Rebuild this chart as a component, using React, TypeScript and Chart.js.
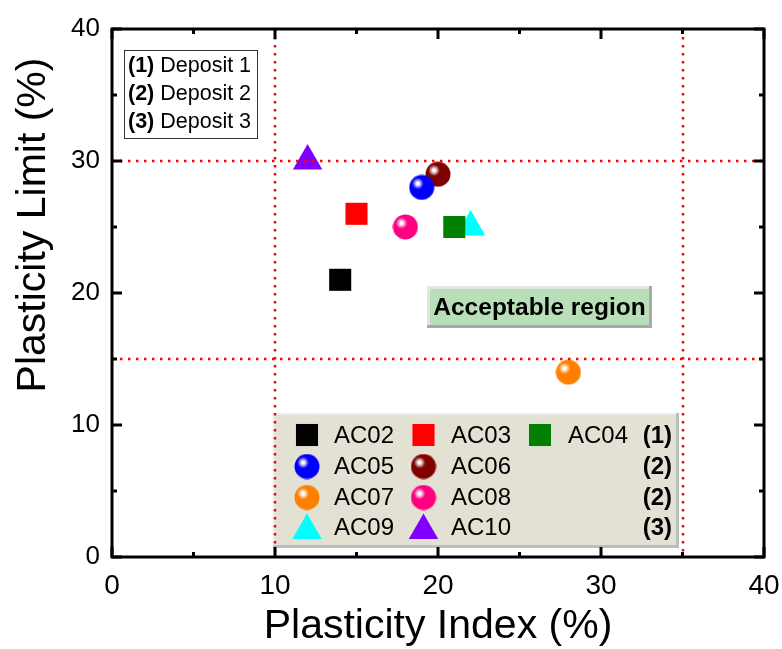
import React, { useEffect, useRef } from 'react';
import { Chart, registerables } from 'chart.js';

Chart.register(...registerables);

// ---------- data ----------
const sampleNames = ['AC02', 'AC03', 'AC04', 'AC05', 'AC06', 'AC07', 'AC08', 'AC09', 'AC10'];
const plasticityIndex = [14, 15, 21, 19, 20, 28, 18, 22, 12];
const plasticityLimit = [21, 26, 25, 28, 29, 14, 25, 25, 30];
const sampleColors = ['#000000', '#ff0000', '#008000', '#0000ff', '#800000', '#ff8000', '#ff0080', '#00ffff', '#8000ff'];
const sampleShapes = ['square', 'square', 'square', 'sphere', 'sphere', 'sphere', 'sphere', 'triangle', 'triangle'];
const legendRows = [[0, 1, 2], [3, 4], [5, 6], [7, 8]];
const legendRowDeposit = ['(1)', '(2)', '(2)', '(3)'];
const depositKeys = ['(1)', '(2)', '(3)'];
const depositNames = ['Deposit 1', 'Deposit 2', 'Deposit 3'];
const refLinesX = [10, 35];
const refLinesY = [30, 15];
const regionLabel = 'Acceptable region';
const axisMin = 0;
const axisMax = 40;
const majorStep = 10;
const minorStep = 5;
const xTitle = 'Plasticity Index (%)';
const yTitle = 'Plasticity Limit (%)';

const FONT = '"Liberation Sans", Arial, sans-serif';

function lighten(hex: string, t: number) {
  const n = parseInt(hex.slice(1), 16);
  const r = (n >> 16) & 255, g = (n >> 8) & 255, b = n & 255;
  const f = (c: number) => Math.round(c + (255 - c) * t);
  return `rgb(${f(r)},${f(g)},${f(b)})`;
}

function makeSphere(color: string, d = 26) {
  const c = document.createElement('canvas');
  c.width = d;
  c.height = d;
  const g = c.getContext('2d')!;
  const r = d / 2;
  const hx = r - r * 0.3, hy = r - r * 0.3;
  const grad = g.createRadialGradient(hx, hy, 0, hx, hy, r * 1.3);
  grad.addColorStop(0, '#ffffff');
  grad.addColorStop(0.08, '#ffffff');
  grad.addColorStop(0.2, lighten(color, 0.55));
  grad.addColorStop(0.34, color);
  grad.addColorStop(1, color);
  g.fillStyle = grad;
  g.beginPath();
  g.arc(r, r, r - 0.5, 0, Math.PI * 2);
  g.fill();
  return c;
}

const SQUARE_R = 15.6;
const TRI_R = 17;

function drawMarker(ctx: CanvasRenderingContext2D, shape: string, color: string, img: HTMLCanvasElement | null, x: number, y: number) {
  if (shape === 'square') {
    const s = SQUARE_R * Math.SQRT1_2;
    ctx.fillStyle = color;
    ctx.fillRect(x - s, y - s, 2 * s, 2 * s);
  } else if (shape === 'triangle') {
    ctx.fillStyle = color;
    ctx.beginPath();
    let rad = 0;
    ctx.moveTo(x + Math.sin(rad) * TRI_R, y - Math.cos(rad) * TRI_R);
    rad += (Math.PI * 2) / 3;
    ctx.lineTo(x + Math.sin(rad) * TRI_R, y - Math.cos(rad) * TRI_R);
    rad += (Math.PI * 2) / 3;
    ctx.lineTo(x + Math.sin(rad) * TRI_R, y - Math.cos(rad) * TRI_R);
    ctx.closePath();
    ctx.fill();
  } else if (img) {
    ctx.drawImage(img, x - img.width / 2, y - img.height / 2);
  }
}

export default function App() {
  const ref = useRef<HTMLCanvasElement>(null);

  useEffect(() => {
    document.body.style.margin = '0';
    const canvas = ref.current!;
    const spheres: (HTMLCanvasElement | null)[] = sampleShapes.map((s, i) => (s === 'sphere' ? makeSphere(sampleColors[i]) : null));

    const datasets = sampleNames.map((name, i) => {
      const shape = sampleShapes[i];
      return {
        label: name,
        data: [{ x: plasticityIndex[i], y: plasticityLimit[i] }],
        backgroundColor: sampleColors[i],
        borderColor: sampleColors[i],
        borderWidth: 0,
        pointStyle: shape === 'square' ? 'rect' : shape === 'triangle' ? 'triangle' : spheres[i],
        pointRadius: shape === 'square' ? SQUARE_R : shape === 'triangle' ? TRI_R : 13,
        pointHoverRadius: shape === 'square' ? SQUARE_R : shape === 'triangle' ? TRI_R : 13,
      } as any;
    });

    const overlay = {
      id: 'overlay',
      afterDatasetsDraw(chart: any) {
        const ctx: CanvasRenderingContext2D = chart.ctx;
        const { left, right, top, bottom } = chart.chartArea;
        const xs = chart.scales.x;
        const ys = chart.scales.y;
        ctx.save();

        // ---- legend box ----
        const lx0 = 273, ly0 = 413, lx1 = 679, ly1 = 548;
        ctx.fillStyle = '#bdbdbd';
        ctx.fillRect(lx0, ly0, lx1 - lx0, ly1 - ly0);
        ctx.fillStyle = '#ededed';
        ctx.fillRect(lx0, ly0, lx1 - lx0 - 3, ly1 - ly0 - 3);
        ctx.fillStyle = '#e3e1d4';
        ctx.fillRect(lx0 + 2, ly0 + 2, lx1 - lx0 - 5, ly1 - ly0 - 5);
        const rowY = [435, 466.5, 497.5, 527.5];
        const colMarkerX = [307, 423.5, 540];
        const colTextX = [334, 451, 568];
        ctx.textBaseline = 'middle';
        legendRows.forEach((row, r) => {
          row.forEach((idx, c) => {
            drawMarker(ctx, sampleShapes[idx], sampleColors[idx], spheres[idx], colMarkerX[c], rowY[r] + (sampleShapes[idx] === 'triangle' ? 3 : 0));
            ctx.fillStyle = '#000';
            ctx.font = `24px ${FONT}`;
            ctx.textAlign = 'left';
            ctx.fillText(sampleNames[idx], colTextX[c], rowY[r] + 1);
          });
          ctx.font = `bold 24px ${FONT}`;
          ctx.textAlign = 'right';
          ctx.fillStyle = '#000';
          ctx.fillText(legendRowDeposit[r], 672, rowY[r] + 1);
        });

        // ---- deposit key box ----
        ctx.fillStyle = '#fff';
        ctx.fillRect(124, 50, 133, 88);
        ctx.strokeStyle = '#333';
        ctx.lineWidth = 1;
        ctx.strokeRect(124.5, 50.5, 133, 88);
        const keyY = [66, 94, 122];
        depositKeys.forEach((k, i) => {
          ctx.textAlign = 'left';
          ctx.fillStyle = '#000';
          ctx.font = `bold 21.5px ${FONT}`;
          ctx.fillText(k, 128, keyY[i]);
          const w = ctx.measureText(k + ' ').width;
          ctx.font = `21.5px ${FONT}`;
          ctx.fillText(depositNames[i], 128 + w, keyY[i]);
        });

        // ---- acceptable region label ----
        const ax0 = 427, ay0 = 286, ax1 = 652, ay1 = 328;
        ctx.fillStyle = '#a8a8a8';
        ctx.fillRect(ax0, ay0, ax1 - ax0, ay1 - ay0);
        ctx.fillStyle = '#e4e4e4';
        ctx.fillRect(ax0, ay0, ax1 - ax0 - 3, ay1 - ay0 - 3);
        ctx.fillStyle = '#b8dfb8';
        ctx.fillRect(ax0 + 3, ay0 + 3, ax1 - ax0 - 6, ay1 - ay0 - 6);
        ctx.fillStyle = '#000';
        ctx.font = `bold 24.5px ${FONT}`;
        ctx.textAlign = 'center';
        ctx.fillText(regionLabel, (ax0 + ax1) / 2, (ay0 + ay1) / 2 + 1);

        // ---- reference dotted lines ----
        ctx.strokeStyle = '#ff0000';
        ctx.lineWidth = 2.5;
        ctx.setLineDash([2.5, 5.5]);
        refLinesX.forEach((v) => {
          const px = Math.round(xs.getPixelForValue(v));
          ctx.beginPath();
          ctx.moveTo(px, top);
          ctx.lineTo(px, bottom);
          ctx.stroke();
        });
        refLinesY.forEach((v) => {
          const py = Math.round(ys.getPixelForValue(v));
          ctx.beginPath();
          ctx.moveTo(left, py);
          ctx.lineTo(right, py);
          ctx.stroke();
        });
        ctx.setLineDash([]);

        // ---- frame and inward ticks ----
        ctx.strokeStyle = '#000';
        ctx.lineWidth = 3;
        ctx.strokeRect(left, top, right - left, bottom - top);
        for (let v = axisMin; v <= axisMax; v += minorStep) {
          const len = v % majorStep === 0 ? 10 : 5;
          const px = xs.getPixelForValue(v);
          const py = ys.getPixelForValue(v);
          ctx.beginPath();
          ctx.moveTo(px, bottom); ctx.lineTo(px, bottom - len);
          ctx.moveTo(px, top); ctx.lineTo(px, top + len);
          ctx.moveTo(left, py); ctx.lineTo(left + len, py);
          ctx.moveTo(right, py); ctx.lineTo(right - len, py);
          ctx.stroke();
        }

        // ---- y axis title ----
        ctx.save();
        ctx.translate(45, 225);
        ctx.rotate(-Math.PI / 2);
        ctx.font = `41px ${FONT}`;
        ctx.fillStyle = '#000';
        ctx.textAlign = 'center';
        ctx.textBaseline = 'alphabetic';
        ctx.fillText(yTitle, 0, 0);
        ctx.restore();

        ctx.restore();
      },
    };

    const chart = new Chart(canvas, {
      type: 'scatter',
      data: { datasets },
      options: {
        animation: false,
        responsive: false,
        devicePixelRatio: 1,
        events: [],
        layout: { padding: { top: 29, right: 18, left: 0, bottom: 0 } },
        plugins: { legend: { display: false }, tooltip: { enabled: false } },
        scales: {
          x: {
            type: 'linear',
            min: axisMin,
            max: axisMax,
            afterFit: (s: any) => { s.height = 92; s.paddingLeft = 0; s.paddingRight = 0; },
            grid: { display: false, drawTicks: false },
            border: { display: false },
            ticks: { stepSize: majorStep, color: '#000', padding: 12, font: { family: FONT, size: 28 } },
            title: { display: true, text: xTitle, color: '#000', font: { family: FONT, size: 41 }, padding: { top: 0, bottom: -2 } },
          },
          y: {
            type: 'linear',
            min: axisMin,
            max: axisMax,
            afterFit: (s: any) => { s.width = 112; s.paddingTop = 0; s.paddingBottom = 0; },
            grid: { display: false, drawTicks: false },
            border: { display: false },
            ticks: { stepSize: majorStep, color: '#000', padding: 12, font: { family: FONT, size: 26 } },
          },
        },
      },
      plugins: [overlay],
    });
    return () => chart.destroy();
  }, []);

  return (
    <div style={{ width: 782, height: 649 }}>
      <canvas ref={ref} width={782} height={649} style={{ display: 'block' }} />
    </div>
  );
}
